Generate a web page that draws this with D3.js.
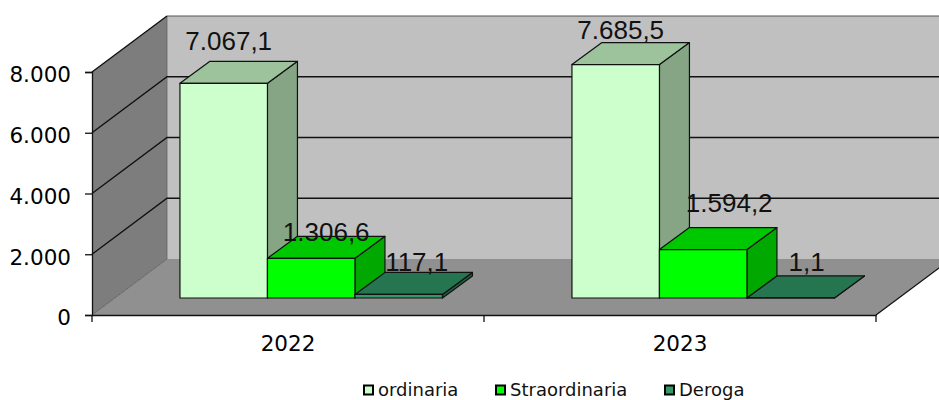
<!DOCTYPE html>
<html>
<head>
<meta charset="utf-8">
<script src="https://cdn.jsdelivr.net/npm/d3@7"></script>
<style>
  body { margin: 0; background: #fff; }
  svg { display: block; }
</style>
</head>
<body>
<div id="chart"></div>
<script>
// the data
var years = ["2022", "2023"];
var seriesNames = ["ordinaria", "Straordinaria", "Deroga"];
var ordinaria = [7067.1, 7685.5];
var straordinaria = [1306.6, 1594.2];
var deroga = [117.1, 1.1];
var yTicks = [0, 2000, 4000, 6000, 8000];

// colours per series: front, top, side
var frontColors = ["#ccffcc", "#00ff00", "#339966"];
var topColors = ["#9cc39c", "#00c800", "#267551"];
var sideColors = ["#85a585", "#00a800", "#1f6042"];

// the labels were placed by hand in the original, so every one has its own nudge
var labelNudge = [
  [[5, -33], [5, -26]],
  [[15, -17], [26, -38]],
  [[18, -23], [16, -27]]
];

var width = 939, height = 400;

// set the plot box (front plane of the floor)
var plot = {left: 92, right: 876, top: 72, bottom: 315};
var wallDx = 75, wallDy = -56;   // depth of the whole box
var barOffX = 23.2, barOffY = -17; // where the front of the bars sits
var barDx = 30, barDy = -22;     // depth of a bar
var barWidth = 87.5;

var svg = d3.select("#chart")
  .append("svg")
    .attr("width", width)
    .attr("height", height);

var x = d3.scaleBand().domain(years).range([plot.left, plot.right]);
var y = d3.scaleLinear().domain([0, 8000]).range([plot.bottom, plot.top]);
var seriesX = d3.scaleBand()
  .domain(seriesNames)
  .range([0, barWidth * 3]);

function poly(points) {
  return points.map(function(p) { return p.join(","); }).join(" ");
}

// back wall
svg.append("polygon")
  .attr("points", poly([
    [plot.left + wallDx, y(8000) + wallDy],
    [plot.right + wallDx, y(8000) + wallDy],
    [plot.right + wallDx, y(0) + wallDy],
    [plot.left + wallDx, y(0) + wallDy]
  ]))
  .attr("fill", "#c0c0c0");

// left wall
svg.append("polygon")
  .attr("points", poly([
    [plot.left, y(8000)],
    [plot.left + wallDx, y(8000) + wallDy],
    [plot.left + wallDx, y(0) + wallDy],
    [plot.left, y(0)]
  ]))
  .attr("fill", "#7d7d7d");

// floor
svg.append("polygon")
  .attr("points", poly([
    [plot.left, y(0)],
    [plot.right, y(0)],
    [plot.right + wallDx, y(0) + wallDy],
    [plot.left + wallDx, y(0) + wallDy]
  ]))
  .attr("fill", "#909090");

// edges of the box
svg.append("line")
  .attr("x1", plot.left + wallDx).attr("x2", plot.right + wallDx)
  .attr("y1", y(8000) + wallDy).attr("y2", y(8000) + wallDy)
  .attr("stroke", "#555").attr("stroke-width", 1.2);
svg.append("line")
  .attr("x1", plot.left + wallDx).attr("x2", plot.left + wallDx)
  .attr("y1", y(8000) + wallDy).attr("y2", y(0) + wallDy)
  .attr("stroke", "#666").attr("stroke-width", 0.8);
svg.append("line")
  .attr("x1", plot.left).attr("x2", plot.left + wallDx)
  .attr("y1", y(0)).attr("y2", y(0) + wallDy)
  .attr("stroke", "#666").attr("stroke-width", 1);
svg.append("line")
  .attr("x1", plot.right).attr("x2", plot.right + wallDx)
  .attr("y1", y(0)).attr("y2", y(0) + wallDy)
  .attr("stroke", "#111").attr("stroke-width", 1.3);

// gridlines: along the back wall and down the left wall
var grid = svg.append("g")
  .attr("fill", "none")
  .attr("stroke", "#111")
  .attr("stroke-width", 1.4);

grid.selectAll("path")
  .data(yTicks.filter(function(d) { return d > 0; }))
  .enter()
  .append("path")
    .attr("d", function(d) {
      var m = "M" + plot.left + "," + y(d) + "L" + (plot.left + wallDx) + "," + (y(d) + wallDy);
      if (d < 8000) m += "L" + (plot.right + wallDx) + "," + (y(d) + wallDy);
      return m;
    });

// Y axis
var yFormat = d3.formatLocale({decimal: ",", thousands: ".", grouping: [3], currency: ["", ""]}).format(",d");
var yAxis = svg.append("g")
  .attr("transform", "translate(" + plot.left + ",0)")
  .call(d3.axisLeft(y).tickValues(yTicks).tickFormat(yFormat).tickSize(7).tickPadding(14));

yAxis.selectAll(".tick text").attr("dy", "0.46em");

// X axis: labels in the middle of each band, ticks on the band edges
var xAxis = svg.append("g")
  .attr("transform", "translate(0," + plot.bottom + ")")
  .call(d3.axisBottom(x).tickSize(0).tickPadding(21));

xAxis.selectAll(".edge")
  .data([0, 1, 2])
  .enter()
  .append("line")
    .attr("class", "edge")
    .attr("x1", function(d) { return plot.left + d * x.step(); })
    .attr("x2", function(d) { return plot.left + d * x.step(); })
    .attr("y1", 0)
    .attr("y2", 7)
    .attr("stroke", "#111");

svg.selectAll(".domain, .tick line, .edge")
  .attr("stroke", "#111")
  .attr("stroke-width", 1.3);

svg.selectAll(".tick text")
  .style("font-family", "'DejaVu Sans', sans-serif")
  .style("font-size", "21.5px")
  .attr("fill", "#000");

// the bars, left to right so each one sits over the side of the previous
var allSeries = [ordinaria, straordinaria, deroga];
var barFloor = y(0) + barOffY;

years.forEach(function(year, yi) {
  var gap = (x.bandwidth() - barWidth * 3) / 2;
  var x0 = x(year) + barOffX + gap;

  seriesNames.forEach(function(name, si) {
    var value = allSeries[si][yi];
    var left = x0 + seriesX(name);
    var right = left + barWidth;
    var top = barFloor - (y(0) - y(value));
    var g = svg.append("g")
      .attr("stroke", "#111")
      .attr("stroke-width", 1.2)
      .attr("stroke-linejoin", "round");

    g.append("polygon")
      .attr("points", poly([
        [right, barFloor], [right + barDx, barFloor + barDy],
        [right + barDx, top + barDy], [right, top]
      ]))
      .attr("fill", sideColors[si]);
    g.append("polygon")
      .attr("points", poly([
        [left, top], [left + barDx, top + barDy],
        [right + barDx, top + barDy], [right, top]
      ]))
      .attr("fill", topColors[si]);
    g.append("rect")
      .attr("x", left)
      .attr("y", top)
      .attr("width", barWidth)
      .attr("height", barFloor - top)
      .attr("fill", frontColors[si]);
  });
});

// value labels go last, they run over the bars
var valueFormat = d3.formatLocale({decimal: ",", thousands: ".", grouping: [3], currency: ["", ""]}).format(",.1f");
years.forEach(function(year, yi) {
  var gap = (x.bandwidth() - barWidth * 3) / 2;
  var x0 = x(year) + barOffX + gap;
  seriesNames.forEach(function(name, si) {
    var value = allSeries[si][yi];
    svg.append("text")
      .attr("x", x0 + seriesX(name) + barWidth / 2 + labelNudge[si][yi][0])
      .attr("y", barFloor - (y(0) - y(value)) + labelNudge[si][yi][1])
      .attr("text-anchor", "middle")
      .style("font-family", "'Liberation Sans', Arial, sans-serif")
      .style("font-size", "26px")
      .attr("fill", "#111")
      .text(valueFormat(value));
  });
});

// legend at the bottom
var legendX = [363, 495, 664];
var legend = svg.selectAll(".legend")
  .data(seriesNames)
  .enter()
  .append("g")
    .attr("class", "legend")
    .attr("transform", function(d, i) { return "translate(" + legendX[i] + ",384.5)"; });

legend.append("rect")
  .attr("x", 1).attr("y", 1)
  .attr("width", 9).attr("height", 9)
  .attr("fill", function(d, i) { return frontColors[i]; })
  .attr("stroke", "#000")
  .attr("stroke-width", 2);

legend.append("text")
  .attr("x", 15)
  .attr("y", 11)
  .style("font-family", "'DejaVu Sans', sans-serif")
  .style("font-size", "18px")
  .attr("fill", "#111")
  .text(function(d) { return d; });
</script>
</body>
</html>
